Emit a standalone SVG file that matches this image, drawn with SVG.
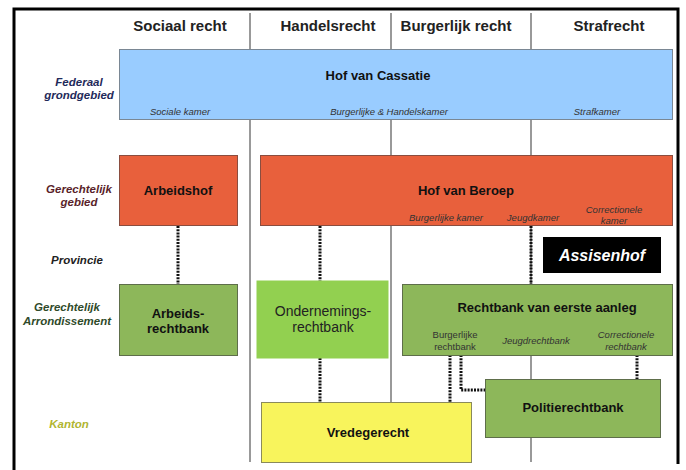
<svg xmlns="http://www.w3.org/2000/svg" width="686" height="470" viewBox="0 0 686 470">
<style>
text{font-family:"Liberation Sans",Arial,sans-serif;text-anchor:middle}
.hdr{font-size:15px;font-weight:bold;fill:#222}
.lvl{font-size:11.5px;font-weight:bold;font-style:italic}
.title{font-size:13px;font-weight:bold;fill:#111}
.sub{font-size:9.5px;font-style:italic;fill:#333}
.subr{font-size:9.5px;fill:#333}
.col{stroke:#555;stroke-width:1.2;fill:none}
.box{stroke-width:1}
.blue{fill:#99CCFF;stroke:#7a8794}
.red{fill:#E8603C;stroke:#8a4d3f}
.olive{fill:#8DB75A;stroke:#5e6e4a}
.bright{fill:#92D050;stroke:#92D050}
.yellow{fill:#F8F45C;stroke:#8a8a5a}
.dot{stroke:#111;stroke-width:3;stroke-dasharray:2 1.2;fill:none}
</style>
<rect x="0" y="0" width="686" height="470" fill="#fff"/>
<path d="M14,470 V9 H678 V464" fill="none" stroke="#000" stroke-width="3"/>
<g id="columns">
<line class="col" x1="250" y1="13" x2="250" y2="462"/>
<line class="col" x1="391" y1="13" x2="391" y2="462"/>
<line class="col" x1="531" y1="13" x2="531" y2="462"/>
</g>
<g id="headers">
<text class="hdr" x="180" y="31">Sociaal recht</text>
<text class="hdr" x="328" y="31">Handelsrecht</text>
<text class="hdr" x="456" y="31">Burgerlijk recht</text>
<text class="hdr" x="609" y="31">Strafrecht</text>
</g>
<g id="levels">
<text class="lvl" x="79" y="86" fill="#1f2a5a">Federaal</text>
<text class="lvl" x="79" y="99" fill="#1f2a5a">grondgebied</text>
<text class="lvl" x="79" y="193" fill="#5a1f2a">Gerechtelijk</text>
<text class="lvl" x="79" y="206" fill="#5a1f2a">gebied</text>
<text class="lvl" x="77" y="264" fill="#222">Provincie</text>
<text class="lvl" x="67" y="311" fill="#2f4a2a">Gerechtelijk</text>
<text class="lvl" x="67" y="325" fill="#2f4a2a">Arrondissement</text>
<text class="lvl" x="69" y="428" fill="#b0b530">Kanton</text>
</g>
<g id="connectors">
<line class="dot" x1="178" y1="226" x2="178" y2="284"/>
<line class="dot" x1="320" y1="226" x2="320" y2="281"/>
<line class="dot" x1="531" y1="226" x2="531" y2="284"/>
<line class="dot" x1="320" y1="358" x2="320" y2="402"/>
<line class="dot" x1="450" y1="355" x2="450" y2="402"/>
<polyline class="dot" points="461,355 461,390 485,390"/>
<line class="dot" x1="637" y1="355" x2="637" y2="379"/>
</g>
<g id="hof-van-cassatie">
<rect class="box blue" x="119.5" y="49.5" width="553" height="70"/>
<text class="title" x="378" y="80">Hof van Cassatie</text>
<text class="sub" x="180" y="115">Sociale kamer</text>
<text class="sub" x="389" y="115">Burgerlijke &amp; Handelskamer</text>
<text class="sub" x="597" y="115">Strafkamer</text>
</g>
<g id="arbeidshof">
<rect class="box red" x="119.5" y="155.5" width="118" height="70"/>
<text class="title" x="178" y="195">Arbeidshof</text>
</g>
<g id="hof-van-beroep">
<rect class="box red" x="260.5" y="155.5" width="412" height="70"/>
<text class="title" x="466" y="195">Hof van Beroep</text>
<text class="sub" x="446" y="221">Burgerlijke kamer</text>
<text class="sub" x="533" y="221">Jeugdkamer</text>
<text class="sub" x="614" y="213">Correctionele</text>
<text class="sub" x="614" y="224">kamer</text>
</g>
<g id="assisenhof">
<rect x="543" y="237" width="118" height="36" fill="#000"/>
<text x="602" y="261" style="font-size:16px;font-weight:bold;font-style:italic;fill:#fff">Assisenhof</text>
</g>
<g id="arbeidsrechtbank">
<rect class="box olive" x="119.5" y="284.5" width="118" height="71"/>
<text class="title" x="178" y="318">Arbeids-</text>
<text class="title" x="178" y="333">rechtbank</text>
</g>
<g id="ondernemingsrechtbank">
<rect class="box bright" x="257" y="281" width="131" height="77"/>
<text x="323" y="316" style="font-size:14px;fill:#222">Ondernemings-</text>
<text x="323" y="332" style="font-size:14px;fill:#222">rechtbank</text>
</g>
<g id="rechtbank-eerste-aanleg">
<rect class="box olive" x="402.5" y="284.5" width="270" height="71"/>
<text class="title" x="547" y="312">Rechtbank van eerste aanleg</text>
<text class="subr" x="455" y="338">Burgerlijke</text>
<text class="subr" x="455" y="350">rechtbank</text>
<text class="sub" x="536" y="344">Jeugdrechtbank</text>
<text class="sub" x="626" y="338">Correctionele</text>
<text class="sub" x="626" y="350">rechtbank</text>
</g>
<g id="vredegerecht">
<rect class="box yellow" x="261.5" y="402.5" width="210" height="60"/>
<text class="title" x="368" y="437">Vredegerecht</text>
</g>
<g id="politierechtbank">
<rect class="box olive" x="485.5" y="379.5" width="175" height="58"/>
<text class="title" x="573" y="412">Politierechtbank</text>
</g>
</svg>
